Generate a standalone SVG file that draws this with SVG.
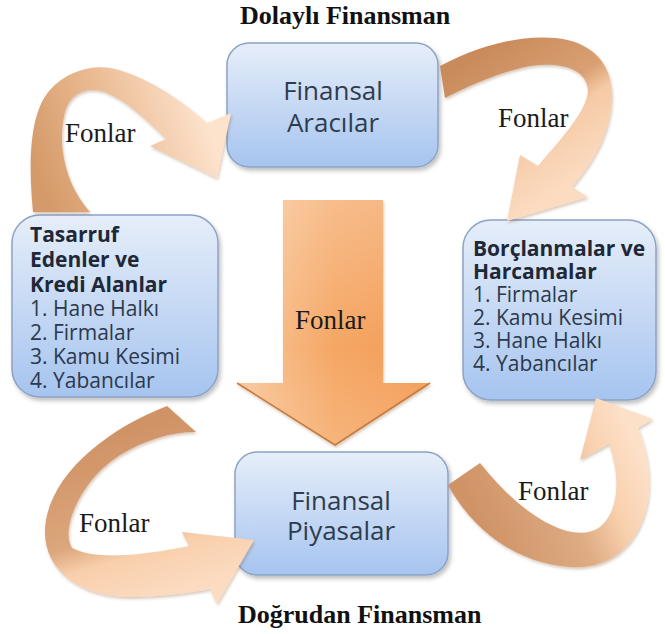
<svg xmlns="http://www.w3.org/2000/svg" width="665" height="634" viewBox="0 0 665 634">
  <defs>
    <style>
      .box { stroke: #8da3c4; stroke-width: 1.5; filter: url(#shadow); }
      .boxtitle { font-family: "Open Sans", "Noto Sans", sans-serif; font-size: 26px; fill: #2f3c4e; text-anchor: middle; }
      .item { font-family: "Open Sans", "Noto Sans", sans-serif; font-size: 21px; fill: #2b394b; }
      .head { font-weight: bold; fill: #1e2836; }
      .lbl { font-family: "Liberation Serif", "Times New Roman", serif; font-size: 27px; fill: #1a1a1a; }
      .title { font-family: "Liberation Serif", "Times New Roman", serif; font-size: 26px; font-weight: bold; fill: #111; }
    </style>
    <filter id="shadow" x="-10%" y="-10%" width="125%" height="125%">
      <feDropShadow dx="2" dy="3" stdDeviation="2" flood-color="#000" flood-opacity="0.25"/>
    </filter>
    <filter id="ashadow" x="-10%" y="-10%" width="125%" height="125%">
      <feDropShadow dx="1" dy="2" stdDeviation="1.5" flood-color="#7a4a20" flood-opacity="0.3"/>
    </filter>
    <linearGradient id="boxg" x1="0" y1="0" x2="0" y2="1">
      <stop offset="0" stop-color="#e6eef9"/>
      <stop offset="1" stop-color="#a6c4ef"/>
    </linearGradient>
    <linearGradient id="bigg" x1="0" y1="0" x2="1" y2="0">
      <stop offset="0" stop-color="#f9c89c"/>
      <stop offset="0.5" stop-color="#f5a765"/>
      <stop offset="1" stop-color="#f39c55"/>
    </linearGradient>
    <linearGradient id="bigv" x1="0" y1="0" x2="0" y2="1">
      <stop offset="0" stop-color="#ffffff" stop-opacity="0.25"/>
      <stop offset="0.6" stop-color="#ffffff" stop-opacity="0"/>
      <stop offset="1" stop-color="#ffffff" stop-opacity="0.15"/>
    </linearGradient>
    <linearGradient id="gTL" gradientUnits="userSpaceOnUse" x1="50" y1="210" x2="215" y2="150">
      <stop offset="0" stop-color="#d49a69"/>
      <stop offset="0.45" stop-color="#e9b88f"/>
      <stop offset="1" stop-color="#fde2cc"/>
    </linearGradient>
    <linearGradient id="gTR" gradientUnits="userSpaceOnUse" x1="440" y1="80" x2="530" y2="215">
      <stop offset="0" stop-color="#c98b5c"/>
      <stop offset="0.45" stop-color="#d9a073"/>
      <stop offset="0.6" stop-color="#f5caa6"/>
      <stop offset="1" stop-color="#fcdcc1"/>
    </linearGradient>
    <linearGradient id="gBL" gradientUnits="userSpaceOnUse" x1="180" y1="415" x2="230" y2="580">
      <stop offset="0" stop-color="#cf9366"/>
      <stop offset="0.55" stop-color="#dca77c"/>
      <stop offset="0.7" stop-color="#f8cfac"/>
      <stop offset="1" stop-color="#fcdcc1"/>
    </linearGradient>
    <linearGradient id="gBR" gradientUnits="userSpaceOnUse" x1="460" y1="480" x2="620" y2="410">
      <stop offset="0" stop-color="#cf9366"/>
      <stop offset="0.5" stop-color="#deab82"/>
      <stop offset="0.75" stop-color="#f8d0ae"/>
      <stop offset="1" stop-color="#fde0c8"/>
    </linearGradient>
  </defs>

  <rect width="665" height="634" fill="#ffffff"/>

  <text class="title" x="240" y="24">Dolaylı Finansman</text>
  <text class="title" x="238" y="623">Doğrudan Finansman</text>

  <g id="node-aracilar">
    <rect class="box" x="227" y="43" width="211" height="124" rx="22" fill="url(#boxg)"/>
    <text class="boxtitle" x="333" y="100">Finansal</text>
    <text class="boxtitle" x="333" y="132">Aracılar</text>
  </g>

  <g id="node-tasarruf">
    <rect class="box" x="12" y="215" width="206" height="182" rx="28" fill="url(#boxg)"/>
    <text class="item head" x="30" y="242">Tasarruf</text>
    <text class="item head" x="30" y="267">Edenler ve</text>
    <text class="item head" x="30" y="292">Kredi Alanlar</text>
    <text class="item" x="30" y="316">1. Hane Halkı</text>
    <text class="item" x="30" y="340">2. Firmalar</text>
    <text class="item" x="30" y="364">3. Kamu Kesimi</text>
    <text class="item" x="30" y="388">4. Yabancılar</text>
  </g>

  <g id="node-borc">
    <rect class="box" x="463" y="220" width="193" height="180" rx="28" fill="url(#boxg)"/>
    <text class="item head" x="473" y="256">Borçlanmalar ve</text>
    <text class="item head" x="473" y="279">Harcamalar</text>
    <text class="item" x="473" y="302">1. Firmalar</text>
    <text class="item" x="473" y="325">2. Kamu Kesimi</text>
    <text class="item" x="473" y="348">3. Hane Halkı</text>
    <text class="item" x="473" y="371">4. Yabancılar</text>
  </g>

  <g id="node-piyasalar">
    <rect class="box" x="235" y="452" width="213" height="123" rx="22" fill="url(#boxg)"/>
    <text class="boxtitle" x="341" y="510">Finansal</text>
    <text class="boxtitle" x="341" y="540">Piyasalar</text>
  </g>

  <g id="connectors">
    <g id="arrow-center" filter="url(#ashadow)">
      <path d="M283,200 L383,200 L383,383 L430,383 L335,445 L237,383 L283,383 Z" fill="url(#bigg)"/>
      <path d="M283,200 L383,200 L383,383 L430,383 L335,445 L237,383 L283,383 Z" fill="url(#bigv)"/>
      <path d="M237,383 L335,445 L430,383" fill="none" stroke="#c77a3c" stroke-width="1.5"/>
    </g>
    <text class="lbl" x="295" y="329">Fonlar</text>

    <path id="arrow-tl" filter="url(#ashadow)" fill="url(#gTL)" d="M33,212 C28,160 30,112 50,90 C70,68 100,62 125,72 C155,82 185,103 207,123 L231,113 L217,178 L150,146 L166,139 C145,118 125,100 105,92 C85,86 70,94 65,112 C58,140 62,180 90,212 Z"/>
    <text class="lbl" x="65" y="142">Fonlar</text>

    <path id="arrow-tr" filter="url(#ashadow)" fill="url(#gTR)" d="M440,66 C480,45 520,35 555,38 C590,41 612,62 612,95 C612,130 595,160 572,187 L588,197 L507,221 L520,155 L538,166 C560,140 588,110 588,90 C586,68 560,62 530,66 C500,72 470,85 445,98 Z"/>
    <text class="lbl" x="498" y="127">Fonlar</text>

    <path id="arrow-bl" filter="url(#ashadow)" fill="url(#gBL)" d="M167,406 C110,428 55,470 46,520 C38,565 75,597 130,597 C160,597 190,593 210,589 L217,604 L254,540 L182,532 L189,546 C140,556 95,560 72,548 C60,530 80,480 120,455 C145,440 170,432 196,432 Z"/>
    <text class="lbl" x="79" y="532">Fonlar</text>

    <path id="arrow-br" filter="url(#ashadow)" fill="url(#gBR)" d="M448,485 C470,525 510,562 570,567 C610,570 640,545 648,500 C652,470 645,445 638,428 L653,419 L596,398 L580,460 L609,444 C620,475 620,510 600,527 C575,545 525,520 480,463 Z"/>
    <text class="lbl" x="518" y="500">Fonlar</text>
  </g>
</svg>
